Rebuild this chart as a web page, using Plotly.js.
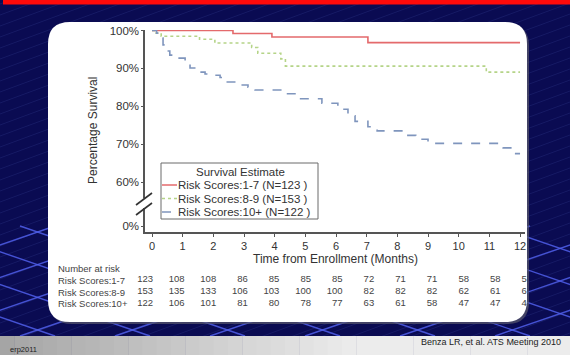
<!DOCTYPE html>
<html><head><meta charset="utf-8">
<script src="https://cdn.plot.ly/plotly-3.0.1.min.js"></script>
<style>html,body{margin:0;padding:0;background:#0a0b52}#c{width:570px;height:355px}</style>
</head><body><div id="c"></div>
<script>
// ---- data ----
const monthsRed   = [0, 2.64, 3.91, 7.04, 12];
const survRed     = [100, 99.2, 98.3, 96.8, 96.8];
const monthsGreen = [0, 0.1, 0.3, 1.55, 2.05, 3.25, 3.45, 4.2, 4.35, 10.9, 12];
const survGreen   = [100, 99.3, 98.5, 97.7, 96.7, 95.5, 94.0, 92.5, 90.6, 89.0, 89.0];
const monthsBlue  = [0, 0.15, 0.28, 0.36, 0.48, 0.58, 0.85, 1.08, 1.24, 1.43, 1.73, 1.96, 2.22, 2.32, 2.8, 3.13, 3.36, 4.24, 4.76, 5.54, 6.06, 6.39, 6.62, 7.04, 7.34, 8.3, 8.6, 9.0, 11.45, 11.8, 12];
const survBlue    = [100, 99.3, 98.0, 96.2, 94.6, 93.5, 92.7, 91.4, 90.1, 89.0, 88.5, 88.2, 87.6, 86.4, 85.6, 85.0, 84.3, 83.3, 82.0, 80.8, 79.2, 77.5, 76.0, 74.6, 73.5, 72.3, 71.3, 70.2, 69.0, 67.5, 67.5];
const seriesNames = ["Risk Scores:1-7 (N=123 )", "Risk Scores:8-9 (N=153 )", "Risk Scores:10+ (N=122 )"];
const riskRowLabels = ["Risk Scores:1-7", "Risk Scores:8-9", "Risk Scores:10+"];
const tickMonths = [0,1,2,3,4,5,6,7,8,9,10,11,12];
const atRisk1 = [123,108,108,86,85,85,85,72,71,71,58,58,58];
const atRisk2 = [153,135,133,106,103,100,100,82,82,82,62,61,61];
const atRisk3 = [122,106,101,81,80,78,77,63,61,58,47,47,45];
const yTickVals = [48.38, 60, 70, 80, 90, 100];
const yTickText = ["0%", "60%", "70%", "80%", "90%", "100%"];

// ---- geometry helpers ----
const W=570, H=355;
const px = x => x/W, py = y => 1 - y/H;
const F = "Liberation Sans, Arial, sans-serif";
const colors = ["#e46a6c", "#b5d488", "#7f95bd"];
const dashes = ["solid", "dot", "dash"];
const M0 = 152, MS = 30.67; // month 0 pixel, px per month

const shapes = [];
// background faint diagonal lines
for (let c=-260; c<700; c+=11) {
  shapes.push({type:'line', xref:'paper', yref:'paper', x0:px(0), y0:py(c), x1:px(570), y1:py(c-210),
    line:{color:'rgba(70,80,170,0.22)', width:1}, layer:'below'});
}
// bright floor lines
for (let x=-360; x<640; x+=95) {
  shapes.push({type:'line', xref:'paper', yref:'paper', x0:px(x), y0:py(336), x1:px(x+320), y1:py(226),
    line:{color:'rgba(80,95,235,0.85)', width:1.4}, layer:'below'});
  shapes.push({type:'line', xref:'paper', yref:'paper', x0:px(x), y0:py(226), x1:px(x+320), y1:py(336),
    line:{color:'rgba(80,95,235,0.85)', width:1.4}, layer:'below'});
}
// top red bar
shapes.push({type:'rect', xref:'paper', yref:'paper', x0:px(3), x1:px(570), y0:py(4.5), y1:py(0), fillcolor:'#ff0a0a', line:{width:0}, layer:'below'});
// bottom gradient strip
const NS = 40;
for (let i=0;i<NS;i++){
  const t = i/(NS-1);
  const v = Math.round(165 + (236-165)*Math.min(1, t*1.6));
  shapes.push({type:'rect', xref:'paper', yref:'paper', x0:px(i*W/NS), x1:px((i+1)*W/NS+0.5), y0:py(355), y1:py(336),
    fillcolor:`rgb(${v},${v},${v})`, line:{width:0}, layer:'below'});
}
// panel
function roundRect(x0,y0,x1,y1,r){
  return `M ${px(x0+r)},${py(y0)} L ${px(x1-r)},${py(y0)} Q ${px(x1)},${py(y0)} ${px(x1)},${py(y0+r)} L ${px(x1)},${py(y1-r)} Q ${px(x1)},${py(y1)} ${px(x1-r)},${py(y1)} L ${px(x0+r)},${py(y1)} Q ${px(x0)},${py(y1)} ${px(x0)},${py(y1-r)} L ${px(x0)},${py(y0+r)} Q ${px(x0)},${py(y0)} ${px(x0+r)},${py(y0)} Z`;
}
shapes.push({type:'path', xref:'paper', yref:'paper', path:roundRect(50,24,529,324,22), fillcolor:'rgba(90,90,110,0.7)', line:{width:0}, layer:'below'});
shapes.push({type:'path', xref:'paper', yref:'paper', path:roundRect(48,22,527,322,22), fillcolor:'#ffffff', line:{width:0}, layer:'below'});
// legend box
shapes.push({type:'rect', xref:'paper', yref:'paper', x0:px(161), x1:px(318), y0:py(219), y1:py(163), fillcolor:'#ffffff', line:{color:'#6a6a6a', width:1}, layer:'above'});
const legY = [185, 198.5, 212];
for (let i=0;i<3;i++){
  shapes.push({type:'line', xref:'paper', yref:'paper', x0:px(162), x1:px(177), y0:py(legY[i]), y1:py(legY[i]),
    line:{color:colors[i], width:1.5, dash: i==0?'solid':(i==1?'dot':'dash')}, layer:'above'});
}
// axis break
shapes.push({type:'rect', xref:'paper', yref:'paper', x0:px(142.5), x1:px(147.5), y0:py(208), y1:py(198.5), fillcolor:'#ffffff', line:{width:0}, layer:'above'});
shapes.push({type:'line', xref:'paper', yref:'paper', x0:px(136), y0:py(205), x1:px(152), y1:py(193), line:{color:'#333', width:1.6}, layer:'above'});
shapes.push({type:'line', xref:'paper', yref:'paper', x0:px(136), y0:py(215), x1:px(152), y1:py(203), line:{color:'#333', width:1.6}, layer:'above'});

const annotations = [];
annotations.push({xref:'paper', yref:'paper', x:px(93), y:py(131), text:'Percentage Survival', textangle:-90, showarrow:false, font:{family:F, size:12, color:'#333'}, xanchor:'center', yanchor:'middle'});
annotations.push({xref:'paper', yref:'paper', x:px(336), y:py(259), text:'Time from Enrollment (Months)', showarrow:false, font:{family:F, size:12, color:'#333'}, xanchor:'center', yanchor:'middle'});
annotations.push({xref:'paper', yref:'paper', x:px(240), y:py(172), text:'Survival Estimate', showarrow:false, font:{family:F, size:11.5, color:'#333'}, xanchor:'center', yanchor:'middle'});
for (let i=0;i<3;i++){
  annotations.push({xref:'paper', yref:'paper', x:px(176), y:py(legY[i]), text:seriesNames[i], showarrow:false, font:{family:F, size:11.5, color:'#333'}, xanchor:'left', yanchor:'middle'});
}
annotations.push({xref:'paper', yref:'paper', x:px(56), y:py(268), text:'Number at risk', showarrow:false, font:{family:F, size:9.5, color:'#444'}, xanchor:'left', yanchor:'middle'});
const rowY = [280, 292, 303.5];
for (let i=0;i<3;i++){
  annotations.push({xref:'paper', yref:'paper', x:px(56), y:py(rowY[i]), text:riskRowLabels[i], showarrow:false, font:{family:F, size:9.5, color:'#444'}, xanchor:'left', yanchor:'middle'});
}
annotations.push({xref:'paper', yref:'paper', x:px(8), y:py(349), text:'erp2011', showarrow:false, font:{family:F, size:7.5, color:'#222'}, xanchor:'left', yanchor:'middle'});
annotations.push({xref:'paper', yref:'paper', x:px(563), y:py(342), text:'Benza LR, et al. ATS Meeting 2010', showarrow:false, font:{family:F, size:9, color:'#222'}, xanchor:'right', yanchor:'middle'});

const traces = [
  {x:monthsRed, y:survRed, name:seriesNames[0]},
  {x:monthsGreen, y:survGreen, name:seriesNames[1]},
  {x:monthsBlue, y:survBlue, name:seriesNames[2]}
].map((t,i)=>Object.assign(t, {type:'scatter', mode:'lines', line:{color:colors[i], width:1.6, dash:dashes[i], shape:'hv'}, hoverinfo:'skip'}));

// number-at-risk table (clipped at panel edge via its own axes)
const rows = [atRisk1, atRisk2, atRisk3];
rows.forEach((r,ri)=>{
  traces.push({type:'scatter', mode:'text', xaxis:'x2', yaxis:'y2',
    x: tickMonths.map(m => (153 + 31.6*m - M0)/MS),
    y: tickMonths.map(()=>rowY[ri]),
    text: r.map(String), textposition:'middle left',
    textfont:{family:F, size:9.5, color:'#444'}, cliponaxis:true, hoverinfo:'skip'});
});

const layout = {
  width:570, height:355, margin:{l:0,r:0,t:0,b:0},
  paper_bgcolor:'#0a0b52', plot_bgcolor:'rgba(0,0,0,0)', showlegend:false,
  xaxis:{domain:[px(145), px(525)], range:[(145-M0)/MS, (525-M0)/MS], tickvals:tickMonths, ticktext:tickMonths.map(String),
    ticks:'outside', ticklen:3, tickwidth:1, tickcolor:'#555', showline:true, linecolor:'#555', linewidth:1.6,
    showgrid:false, zeroline:false, tickfont:{family:F, size:11, color:'#333'}, fixedrange:true},
  yaxis:{domain:[py(232), py(30)], range:[60-(232-182)/3.7875, 100+0.5/3.7875], tickvals:yTickVals, ticktext:yTickText,
    ticks:'outside', ticklen:2, tickcolor:'#555', showline:true, linecolor:'#555', linewidth:1.6,
    showgrid:false, zeroline:false, tickfont:{family:F, size:11.5, color:'#333'}, fixedrange:true},
  xaxis2:{domain:[px(48), px(527)], range:[(48-M0)/MS, (527-M0)/MS], visible:false, anchor:'y2', fixedrange:true},
  yaxis2:{domain:[py(322), py(262)], range:[322, 262], visible:false, anchor:'x2', fixedrange:true},
  shapes, annotations
};
Plotly.newPlot('c', traces, layout, {staticPlot:true, displayModeBar:false});
</script></body></html>
